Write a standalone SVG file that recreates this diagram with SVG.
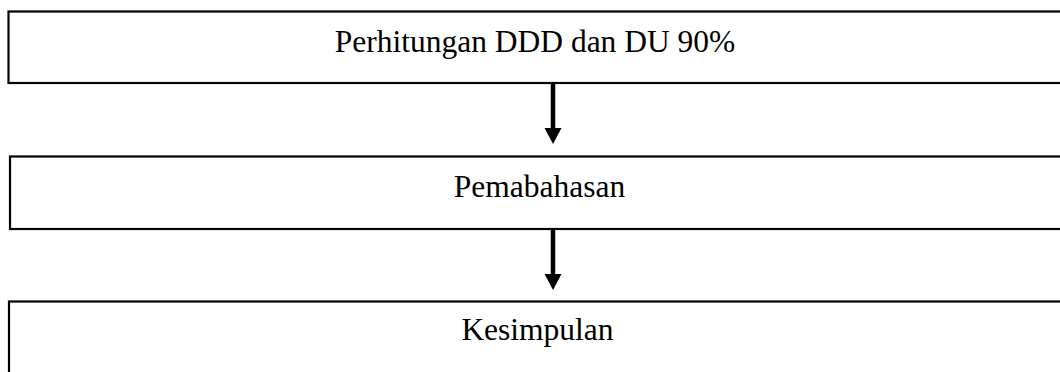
<svg xmlns="http://www.w3.org/2000/svg" width="1060" height="372" viewBox="0 0 1060 372">
<style>
.box{fill:#fff;stroke:#000;stroke-width:2.2}
.lbl{font-family:"Liberation Serif","Times New Roman",serif;font-size:31.5px;fill:#000;text-anchor:middle}
.shaft{stroke:#000;stroke-width:4.5;fill:none}
.head{fill:#000}
</style>
<g id="node1"><rect class="box" x="8.5" y="11.5" width="1070" height="71.5"/><text class="lbl" x="535" y="52">Perhitungan DDD dan DU 90%</text></g>
<g id="node2"><rect class="box" x="10" y="156.5" width="1070" height="72.5"/><text class="lbl" x="539.5" y="197">Pemabahasan</text></g>
<g id="node3"><rect class="box" x="9" y="301.5" width="1070" height="100"/><text class="lbl" x="537.5" y="340">Kesimpulan</text></g>
<g id="connectors">
<line class="shaft" x1="553" y1="83" x2="553" y2="130"/>
<polygon class="head" points="544.5,128 561.5,128 553,144"/>
<line class="shaft" x1="553" y1="229" x2="553" y2="276"/>
<polygon class="head" points="544.5,274 561.5,274 553,290"/>
</g>
</svg>
